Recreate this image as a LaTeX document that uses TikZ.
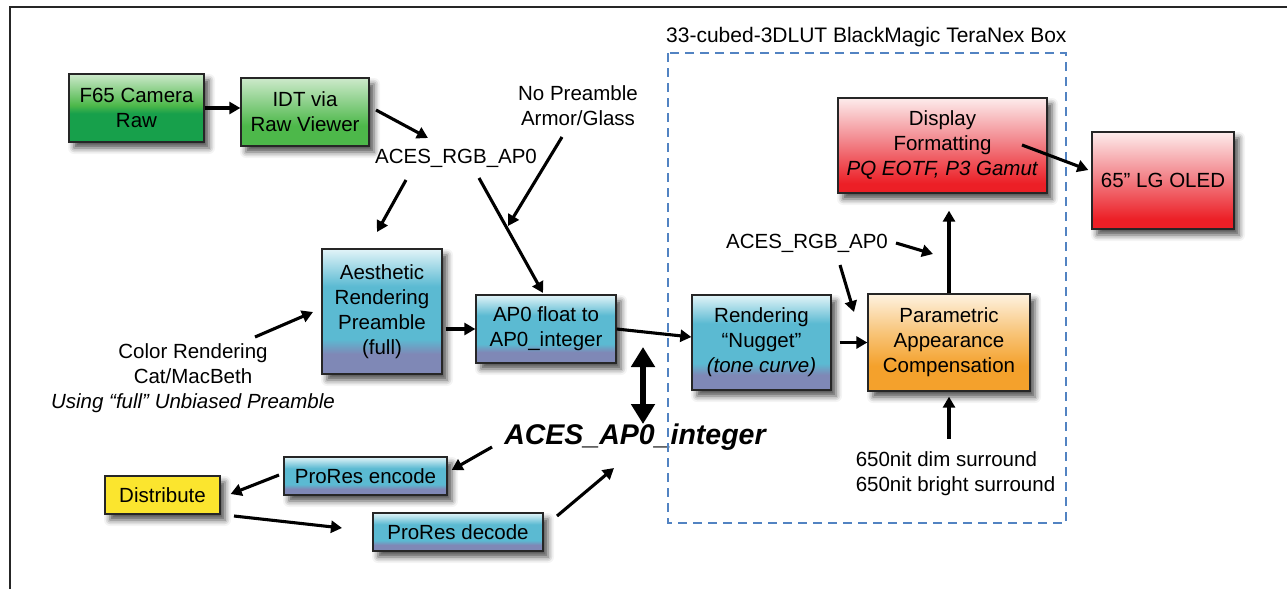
\documentclass[tikz,border=0pt]{standalone}
\usepackage{fontspec}
\setmainfont{Liberation Sans}
\usetikzlibrary{arrows.meta,calc,shadows.blur}
\definecolor{bluelav}{HTML}{7F88B6}
\definecolor{bluecyan}{HTML}{5BBAD2}
\definecolor{bluepale}{HTML}{E2F4F8}
\definecolor{greenpale}{HTML}{CDE9CB}
\definecolor{greenmid}{HTML}{4DB84A}
\definecolor{greendark}{HTML}{17A04B}
\definecolor{redpale}{HTML}{FDECEC}
\definecolor{redmid}{HTML}{F2848A}
\definecolor{reddark}{HTML}{EC1F26}
\definecolor{orpale}{HTML}{FEF2E0}
\definecolor{ormid}{HTML}{F8C478}
\definecolor{ordark}{HTML}{F4A12C}
\definecolor{yel}{HTML}{FBE52E}
\definecolor{dblue}{HTML}{5283C2}
\pgfdeclareverticalshading{blueshade}{100bp}{color(0bp)=(bluelav); color(33bp)=(bluelav); color(39bp)=(bluecyan); color(60bp)=(bluecyan); color(75bp)=(bluepale); color(100bp)=(bluepale)}
\pgfdeclareverticalshading{greenA}{100bp}{color(0bp)=(greendark); color(46bp)=(greendark); color(52bp)=(greenmid); color(75bp)=(greenpale); color(100bp)=(greenpale)}
\pgfdeclareverticalshading{greenB}{100bp}{color(0bp)=(greenmid); color(40bp)=(greenmid); color(75bp)=(greenpale); color(100bp)=(greenpale)}
\pgfdeclareverticalshading{redshade}{100bp}{color(0bp)=(reddark); color(30bp)=(reddark); color(52bp)=(redmid); color(75bp)=(redpale); color(100bp)=(redpale)}
\pgfdeclareverticalshading{orshade}{100bp}{color(0bp)=(ordark); color(38bp)=(ordark); color(55bp)=(ormid); color(75bp)=(orpale); color(100bp)=(orpale)}
\begin{document}
\begin{tikzpicture}[x=1pt,y=-1pt,
  txt/.style={font=\fontsize{20.5}{25}\selectfont, align=center, inner sep=0pt},
  box/.style={txt, draw=black!85, line width=1.3pt,
    blur shadow={shadow xshift=5pt, shadow yshift=-6pt, shadow blur radius=6pt, shadow opacity=70}},
  bluebox/.style={box, shading=blueshade},
  arr/.style={line width=3.1pt, -{Triangle[length=11pt,width=12pt]}},
  dbl/.style={line width=6.5pt, {Triangle[length=20pt,width=23pt]}-{Triangle[length=20pt,width=23pt]}},
  dashbox/.style={draw=dblue, line width=2.4pt, dash pattern=on 9pt off 6pt}]
\useasboundingbox (0,0) rectangle (1287,589);
\draw[line width=1.2pt, black!85] (10,589) -- (10,7) -- (1287,7);

% nodes
\node[box, shading=greenA, minimum width=135pt, minimum height=68pt] (f65) at (136.5,108) {F65 Camera\\Raw};
\node[box, shading=greenB, minimum width=128pt, minimum height=68pt] (idt) at (305,112) {IDT via\\Raw Viewer};
\node[txt] (aces1) at (456,158) {ACES\_RGB\_AP0};
\node[txt] (nopre) at (578,106) {No Preamble\\Armor/Glass};
\node[bluebox, minimum width=120pt, minimum height=125pt] (aesth) at (382,311.5) {Aesthetic\\Rendering\\Preamble\\(full)};
\node[bluebox, minimum width=140pt, minimum height=68pt] (ap0f) at (546,329) {AP0 float to\\AP0\_integer};
\node[txt] (colorr) at (193,378) {Color Rendering\\Cat/MacBeth\\\textit{Using “full” Unbiased Preamble}};
\node[bluebox, minimum width=139pt, minimum height=95pt] (nugget) at (761.5,342.5) {Rendering\\“Nugget”\\\textit{(tone curve)}};
\node[box, shading=redshade, minimum width=209pt, minimum height=95pt] (disp) at (942.5,145.5) {Display\\Formatting\\\textit{PQ EOTF, P3 Gamut}};
\node[box, shading=redshade, minimum width=142pt, minimum height=97pt] (oled) at (1163,180.5) {65” LG OLED};
\node[txt] (aces2) at (807,243) {ACES\_RGB\_AP0};
\node[box, shading=orshade, minimum width=162pt, minimum height=97pt] (param) at (949,342.5) {Parametric\\Appearance\\Compensation};
\node[txt, align=left] (nit) at (955.5,473.5) {650nit dim surround\\650nit bright surround};
\node[box, fill=yel, minimum width=115pt, minimum height=38pt] (distr) at (162.5,495) {Distribute};
\node[bluebox, minimum width=163pt, minimum height=38pt] (enc) at (365.5,476) {ProRes encode};
\node[bluebox, minimum width=170pt, minimum height=38pt] (dec) at (458,532) {ProRes decode};
\node[inner sep=0pt, font=\fontsize{28.5}{34}\selectfont\bfseries\itshape] (acesint) at (635,437) {ACES\_AP0\_integer};
\node[txt, anchor=west, font=\fontsize{21}{25}\selectfont] (title) at (666,37) {33-cubed-3DLUT BlackMagic TeraNex Box};

\draw[dashbox] (668,53) rectangle (1066,523);

% connectors
\draw[arr] (f65.east) -- (f65.east -| idt.west);
\draw[arr] ($(idt)+(71,-2)$) -- ($(aces1)+(-28,-20)$);
\draw[arr] ($(aces1)+(-50,22)$) -- ($(aesth)+(-5,-79.5)$);
\draw[arr] ($(aces1)+(23,20)$) -- ($(ap0f)+(-3,-36)$);
\draw[arr] ($(nopre)+(-16,31)$) -- ($(ap0f)+(-38,-103)$);
\draw[arr] ($(colorr)+(62,-41)$) -- ($(aesth)+(-69,0.5)$);
\draw[arr] ([xshift=3pt]aesth.east |- ap0f.west) -- (ap0f.west);
\draw[arr] (ap0f.east) -- ($(nugget.west)+(0,-5.5)$);
\draw[dbl] ($(ap0f)+(97,18)$) -- ($(acesint)+(8,-13)$);
\draw[arr] ([xshift=8pt]nugget.east) -- (param.west);
\draw[arr] ($(aces2)+(89,0)$) -- ($(param)+(-16,-88.5)$);
\draw[arr] ($(aces2)+(33,22)$) -- ($(param)+(-95,-30.5)$);
\draw[arr] (param.north) -- ($(disp.south -| param.north)+(0,17)$);
\draw[arr] ($(disp)+(79.5,-0.5)$) -- ($(oled.west)+(-3,-10.5)$);
\draw[arr] ($(nit)+(-6.5,-35)$) -- ($(param.south)+(0,5)$);
\draw[arr] ($(enc)+(-86.5,-1)$) -- ($(distr.east)+(10,-1)$);
\draw[arr] ($(distr)+(71.5,21)$) -- ($(dec)+(-116,-4)$);
\draw[arr] ($(acesint)+(-143,10)$) -- ($(enc.east)+(4,-6)$);
\draw[arr] ($(dec)+(99,-16)$) -- ($(acesint)+(-21,31)$);
\end{tikzpicture}
\end{document}
